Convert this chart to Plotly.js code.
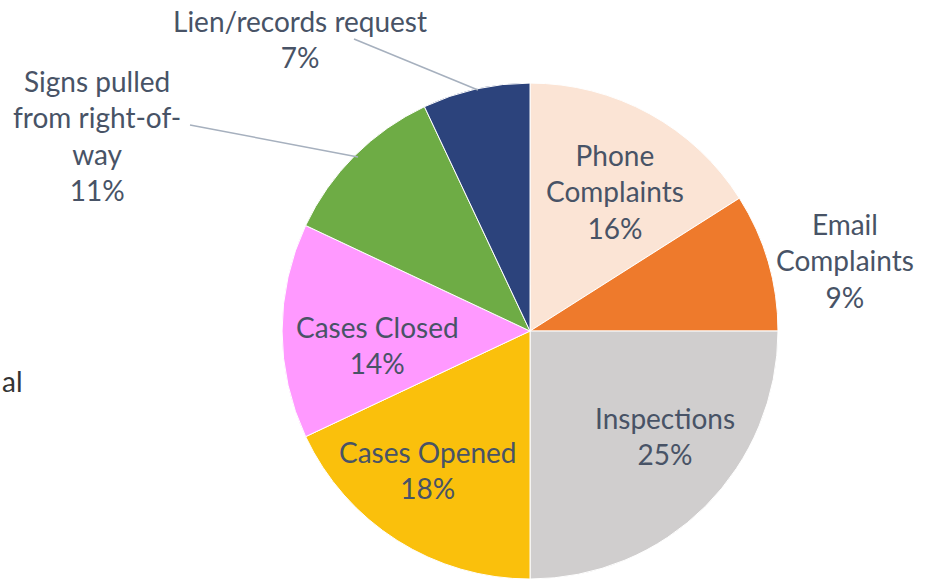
<!DOCTYPE html>
<html>
<head>
<meta charset="utf-8">
<script src="https://cdn.plot.ly/plotly-3.0.1.min.js"></script>
<style>
  html, body { margin: 0; padding: 0; background: #fff; }
  #chart { width: 931px; height: 581px; }
</style>
</head>
<body>
<div id="chart"></div>
<script>
// slices, clockwise from 12 o'clock
const categories = ['Phone<br>Complaints', 'Email<br>Complaints', 'Inspections', 'Cases Opened',
    'Cases Closed', 'Signs pulled<br>from right-of-<br>way', 'Lien/records request'];
const shares = [16, 9, 25, 18, 14, 11, 7];
const sliceColors = ['#FBE4D5', '#EE7A2C', '#D0CECE', '#FAC00C', '#FF99FF', '#6EAC45', '#2C437C'];

// where each label block is centred on the page (pixels)
const labelPos = [[615, 191], [845, 260], [665, 436], [428, 470], [377, 345], [97, 135], [300, 39]];
const toPx = (x, y) => ({ x: x / 931, y: 1 - y / 581 });

const textColor = '#485366';
const labelFont = { family: 'Lato, "Open Sans", sans-serif', size: 28, color: textColor };

const annotations = categories.map((name, i) => {
    const p = toPx(labelPos[i][0], labelPos[i][1]);
    return {
        xref: 'paper', yref: 'paper', x: p.x, y: p.y,
        xanchor: 'center', yanchor: 'middle',
        text: name + '<br>' + shares[i] + '%',
        showarrow: false, align: 'center', font: labelFont
    };
});

// cut-off text at the far left of the original screenshot
annotations.push({
    xref: 'paper', yref: 'paper', x: 0, y: toPx(0, 381).y, xanchor: 'left', yanchor: 'middle',
    text: 'al', showarrow: false,
    font: { family: 'Lato, sans-serif', size: 28, color: '#333333' }
});

// leader lines for the two labels placed far outside
const leaders = [[[190, 125], [358, 157]], [[354, 39], [478, 90]]];
const shapes = leaders.map(l => {
    const a = toPx(l[0][0], l[0][1]), b = toPx(l[1][0], l[1][1]);
    return {
        type: 'line', xref: 'paper', yref: 'paper',
        x0: a.x, y0: a.y, x1: b.x, y1: b.y,
        line: { color: '#A6B0BE', width: 1.5 }
    };
});

const data = [{
    type: 'pie',
    labels: categories,
    values: shares,
    sort: false,
    direction: 'clockwise',
    rotation: 0,
    textinfo: 'none',
    hoverinfo: 'label+percent',
    marker: { colors: sliceColors, line: { color: '#ffffff', width: 1 } },
    domain: { x: [0.3029, 0.8357], y: [0.0034, 0.857] },
    showlegend: false
}];

const layout = {
    width: 931,
    height: 581,
    margin: { l: 0, r: 0, t: 0, b: 0 },
    paper_bgcolor: '#ffffff',
    showlegend: false,
    annotations: annotations,
    shapes: shapes
};

Plotly.newPlot('chart', data, layout, { displayModeBar: false, staticPlot: true });
</script>
</body>
</html>
